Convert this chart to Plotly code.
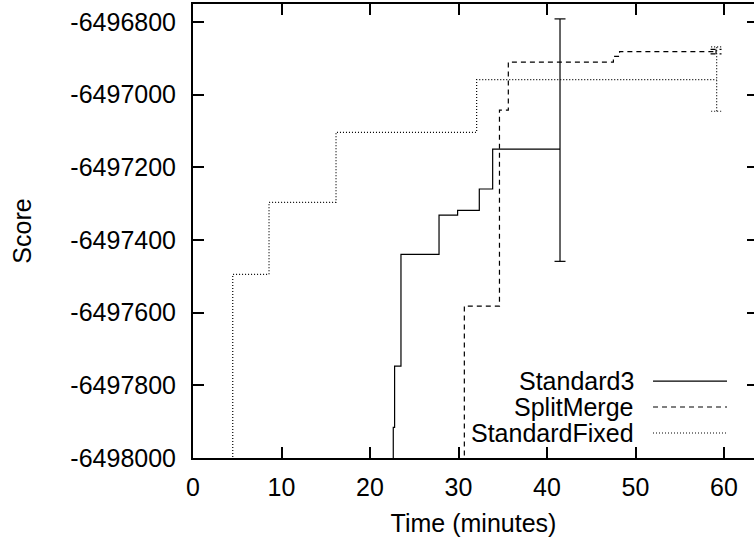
import plotly.graph_objects as go

# Step curves (time in minutes, best score so far)
std3_time = [20.0, 22.63, 22.78, 23.5, 27.8, 29.9, 32.35, 33.86, 41.47]
std3_score = [-6498300, -6497916, -6497747, -6497440, -6497332, -6497319, -6497260, -6497150, -6497150]
std3_err_hi = -6496792
std3_err_lo = -6497459

split_time = [28.0, 30.66, 34.63, 35.63, 47.5, 48.2, 59.1]
split_score = [-6498300, -6497582, -6497043, -6496911, -6496895, -6496882, -6496882]
split_err_hi = -6496876
split_err_lo = -6496888

fixed_time = [2.0, 4.49, 8.59, 16.16, 32.05, 59.17]
fixed_score = [-6498300, -6497495, -6497297, -6497104, -6496959, -6496959]
fixed_err_hi = -6496869
fixed_err_lo = -6497046

series_names = ["Standard3", "SplitMerge", "StandardFixed"]
x_ticks = [0, 10, 20, 30, 40, 50, 60]
x_tick_labels = ["0", "10", "20", "30", "40", "50", "60"]
y_ticks = [-6498000, -6497800, -6497600, -6497400, -6497200, -6497000, -6496800]
y_tick_labels = ["-6498000", "-6497800", "-6497600", "-6497400", "-6497200", "-6497000", "-6496800"]

X_RANGE = [0, 63.39]
Y_RANGE = [-6498000, -6496751]
FONT = "Liberation Sans, Arial, Helvetica, sans-serif"
FS = 25

styles = [
    dict(color="black", width=1.2, dash="solid"),
    dict(color="black", width=1.2, dash="5px,4px"),
    dict(color="black", width=1.2, dash="1px,2px"),
]

fig = go.Figure()

def add_series(t, s, hi, lo, style):
    fig.add_trace(go.Scatter(x=t, y=s, mode="lines", line=dict(shape="hv", **style),
                             showlegend=False, hoverinfo="skip"))
    # error bar at the final point, drawn in the series' own line style
    xe = t[-1]
    cap = 0.62
    fig.add_trace(go.Scatter(
        x=[xe, xe, None, xe - cap, xe + cap, None, xe - cap, xe + cap],
        y=[lo, hi, None, hi, hi, None, lo, lo],
        mode="lines", line=style, showlegend=False, hoverinfo="skip"))

add_series(std3_time, std3_score, std3_err_hi, std3_err_lo, styles[0])
add_series(split_time, split_score, split_err_hi, split_err_lo, styles[1])
add_series(fixed_time, fixed_score, fixed_err_hi, fixed_err_lo, styles[2])

# carrier trace for the right-hand tick marks
fig.add_trace(go.Scatter(x=[0], y=[Y_RANGE[0]], yaxis="y2", mode="markers",
                         marker=dict(opacity=0), showlegend=False, hoverinfo="skip"))

# key: right-aligned labels with line samples to their right
key_rows = [0.1695, 0.1123, 0.0551]
for name, yk, st in zip(series_names, key_rows, styles):
    fig.add_annotation(x=0.7900, y=yk, xref="paper", yref="paper", text=name,
                       showarrow=False, xanchor="right", yanchor="middle",
                       font=dict(family=FONT, size=FS, color="black"))
    fig.add_shape(type="line", xref="paper", yref="paper", x0=0.8200, x1=0.9519,
                  y0=yk, y1=yk, line=st)

axis_common = dict(showgrid=False, zeroline=False, ticks="inside", ticklen=11,
                   tickwidth=1.5, tickcolor="black", linecolor="black", linewidth=2,
                   tickfont=dict(family=FONT, size=FS, color="black"))

fig.update_layout(
    width=754, height=545,
    margin=dict(l=193, r=0, t=4, b=87),
    paper_bgcolor="white", plot_bgcolor="white",
    font=dict(family=FONT, size=FS, color="black"),
    xaxis=dict(range=X_RANGE, tickvals=x_ticks, ticktext=x_tick_labels,
               showline=True, mirror="ticks", ticklabelstandoff=6,
               title=dict(text="Time (minutes)", font=dict(family=FONT, size=FS), standoff=14),
               **axis_common),
    yaxis=dict(range=Y_RANGE, tickvals=y_ticks, ticktext=y_tick_labels,
               showline=True, mirror=False, ticklabelstandoff=10,
               title=dict(text="Score", font=dict(family=FONT, size=FS), standoff=32),
               **axis_common),
    yaxis2=dict(range=Y_RANGE, tickvals=y_ticks, overlaying="y", side="right",
                showticklabels=False, showline=False, showgrid=False, zeroline=False,
                ticks="inside", ticklen=7, tickwidth=1.5, tickcolor="black"),
)

fig.write_html("out.html")
